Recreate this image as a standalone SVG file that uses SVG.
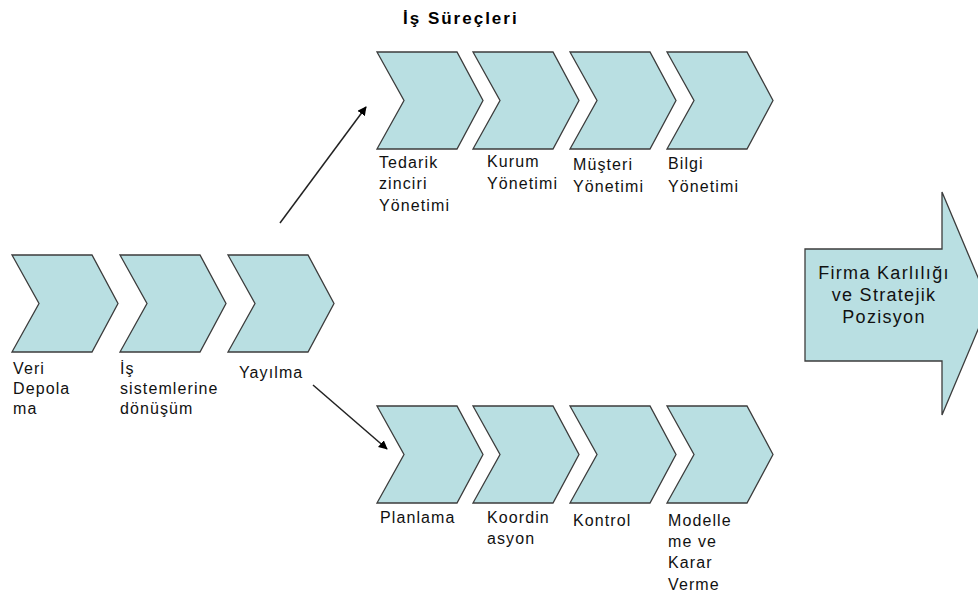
<svg xmlns="http://www.w3.org/2000/svg" width="978" height="597" viewBox="0 0 978 597">
<defs>
<style>
.chev{fill:#B9DFE2;stroke:#3C3C3C;stroke-width:1.3;stroke-linejoin:miter}
.lbl{font-family:"Liberation Sans",Arial,sans-serif;font-size:16px;letter-spacing:1.1px;fill:#111}
.ttl{font-family:"Liberation Sans",Arial,sans-serif;font-size:17px;font-weight:bold;letter-spacing:2px;fill:#000}
.big{font-family:"Liberation Sans",Arial,sans-serif;font-size:18px;letter-spacing:1.3px;fill:#111;text-anchor:middle}
.con{stroke:#222;stroke-width:1.5;fill:none}
</style>
<path id="chv" d="M0,0 H80 L106,48.5 L80,97 H0 L27,48.5 Z"/>
<marker id="ah" viewBox="0 0 10 10" refX="9" refY="5" markerWidth="9" markerHeight="9" markerUnits="userSpaceOnUse" orient="auto">
<path d="M0,0 L10,5 L0,10 Z" fill="#000"/>
</marker>
</defs>
<rect width="978" height="597" fill="#fff"/>

<text class="ttl" x="403" y="24">İş Süreçleri</text>

<g id="veri-depolama">
<use href="#chv" class="chev" x="12" y="255"/>
<text class="lbl"><tspan x="13" y="374">Veri</tspan><tspan x="13" y="394">Depola</tspan><tspan x="13" y="414">ma</tspan></text>
</g>
<g id="is-sistemlerine">
<use href="#chv" class="chev" x="120" y="255"/>
<text class="lbl"><tspan x="120" y="374">İş</tspan><tspan x="120" y="394">sistemlerine</tspan><tspan x="120" y="414">dönüşüm</tspan></text>
</g>
<g id="yayilma">
<use href="#chv" class="chev" x="228" y="255"/>
<text class="lbl" x="239" y="378">Yayılma</text>
</g>

<g id="tedarik">
<use href="#chv" class="chev" x="377" y="52"/>
<text class="lbl"><tspan x="379" y="168">Tedarik</tspan><tspan x="379" y="189">zinciri</tspan><tspan x="379" y="211">Yönetimi</tspan></text>
</g>
<g id="kurum">
<use href="#chv" class="chev" x="473" y="52"/>
<text class="lbl"><tspan x="487" y="167">Kurum</tspan><tspan x="487" y="189">Yönetimi</tspan></text>
</g>
<g id="musteri">
<use href="#chv" class="chev" x="570" y="52"/>
<text class="lbl"><tspan x="573" y="170">Müşteri</tspan><tspan x="573" y="192">Yönetimi</tspan></text>
</g>
<g id="bilgi">
<use href="#chv" class="chev" x="667" y="52"/>
<text class="lbl"><tspan x="668" y="169">Bilgi</tspan><tspan x="668" y="192">Yönetimi</tspan></text>
</g>

<g id="planlama">
<use href="#chv" class="chev" x="377" y="406"/>
<text class="lbl" x="380" y="523">Planlama</text>
</g>
<g id="koordinasyon">
<use href="#chv" class="chev" x="473" y="406"/>
<text class="lbl"><tspan x="487" y="523">Koordin</tspan><tspan x="487" y="544">asyon</tspan></text>
</g>
<g id="kontrol">
<use href="#chv" class="chev" x="570" y="406"/>
<text class="lbl" x="573" y="526">Kontrol</text>
</g>
<g id="modelleme">
<use href="#chv" class="chev" x="667" y="406"/>
<text class="lbl"><tspan x="668" y="526">Modelle</tspan><tspan x="668" y="547">me ve</tspan><tspan x="668" y="568">Karar</tspan><tspan x="668" y="590">Verme</tspan></text>
</g>

<g id="firma-karliligi">
<path class="chev" d="M805,249 H942 V192 L989,303.5 L942,415 V361 H805 Z"/>
<text class="big"><tspan x="884" y="279">Firma Karlılığı</tspan><tspan x="884" y="301">ve Stratejik</tspan><tspan x="884" y="323">Pozisyon</tspan></text>
</g>

<g id="connectors">
<line class="con" x1="280" y1="223" x2="366" y2="107" marker-end="url(#ah)"/>
<line class="con" x1="313" y1="385" x2="387" y2="449" marker-end="url(#ah)"/>
</g>
</svg>
